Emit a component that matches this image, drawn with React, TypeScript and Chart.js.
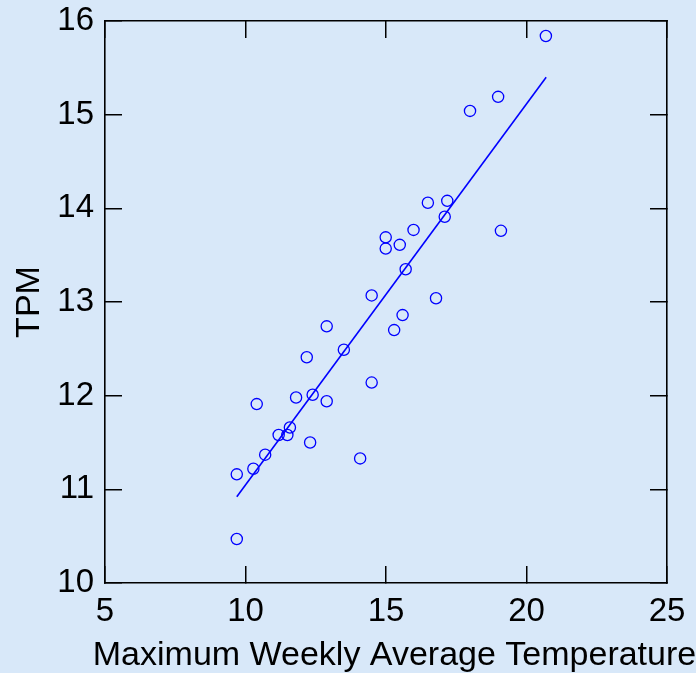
import React, { useEffect, useRef } from "react";
import { Chart, registerables } from "chart.js";

Chart.register(...registerables);

const tempValues = [
  9.69, 9.69, 10.28, 10.40, 10.70, 11.18, 11.49, 11.58, 11.80, 12.39, 12.89,
  12.30, 14.08, 14.49, 14.49, 15.59, 15.29, 12.89, 13.50, 12.18, 16.49, 17.18,
  17.09, 15.98, 19.09, 14.99, 14.99, 15.49, 15.70, 16.78, 20.69, 18.99, 17.99,
];
const tpmValues = [
  10.47, 11.16, 11.22, 11.91, 11.37, 11.58, 11.58, 11.66, 11.98, 12.01, 11.94,
  11.50, 11.33, 12.14, 13.07, 12.86, 12.70, 12.74, 12.49, 12.41, 14.06, 14.08,
  13.91, 13.77, 13.76, 13.69, 13.57, 13.61, 13.35, 13.04, 15.84, 15.19, 15.04,
];
const fitX = [9.69, 20.70];
const fitY = [10.92, 15.40];

const xTicks = [5, 10, 15, 20, 25];
const yTicks = [10, 11, 12, 13, 14, 15, 16];

const xTitle = "Maximum Weekly Average Temperature";
const yTitle = "TPM";

const FONT = "'Liberation Sans', Arial, sans-serif";

export default function App() {
  const ref = useRef<HTMLCanvasElement>(null);

  useEffect(() => {
    if (!ref.current) return;
    const axisCommon = (pos: string) => ({
      type: "linear" as const,
      position: pos,
      grid: {
        drawOnChartArea: false,
        drawTicks: true,
        tickLength: -17,
        color: "#000",
        lineWidth: 1.5,
      },
      border: { display: true, color: "#000", width: 1.6 },
    });
    const fixPad = (s: any) => {
      s.paddingTop = 0;
      s.paddingBottom = 0;
      s.paddingLeft = 0;
      s.paddingRight = 0;
    };

    const xTitlePlugin = {
      id: "xTitlePlugin",
      afterDraw(chart: any) {
        const { ctx, chartArea } = chart;
        ctx.save();
        ctx.font = `34px ${FONT}`;
        ctx.fillStyle = "#000";
        ctx.textAlign = "center";
        ctx.textBaseline = "alphabetic";
        ctx.fillText(xTitle, (chartArea.left + chartArea.right) / 2 + 8.5, chartArea.bottom + 82);
        ctx.restore();
      },
    };

    const chart = new Chart(ref.current, {
      type: "scatter",
      data: {
        datasets: [
          {
            type: "scatter",
            data: tempValues.map((x, i) => ({ x, y: tpmValues[i] })),
            pointStyle: "circle",
            pointRadius: 5.6,
            pointBorderWidth: 1.3,
            borderColor: "#0000ff",
            backgroundColor: "rgba(0,0,0,0)",
          },
          {
            type: "line",
            data: fitX.map((x, i) => ({ x, y: fitY[i] })),
            borderColor: "#0000ff",
            borderWidth: 1.6,
            pointRadius: 0,
            fill: false,
          },
        ],
      },
      options: {
        animation: false,
        responsive: false,
        maintainAspectRatio: false,
        layout: { padding: 0 },
        plugins: { legend: { display: false }, tooltip: { enabled: false } },
        scales: {
          x: {
            ...axisCommon("bottom"),
            min: 5,
            max: 25,
            afterBuildTicks: (s: any) => {
              s.ticks = xTicks.map((v) => ({ value: v }));
            },
            afterFit: (s: any) => {
              s.height = 90;
              fixPad(s);
            },
            ticks: {
              color: "#000",
              font: { size: 33, family: FONT },
              padding: 26,
              maxRotation: 0,
              autoSkip: false,
            },
          },
          xTop: {
            ...axisCommon("top"),
            min: 5,
            max: 25,
            afterBuildTicks: (s: any) => {
              s.ticks = xTicks.map((v) => ({ value: v }));
            },
            afterFit: (s: any) => {
              s.height = 21;
              fixPad(s);
            },
            ticks: { display: false },
          },
          y: {
            ...axisCommon("left"),
            min: 10,
            max: 16,
            afterBuildTicks: (s: any) => {
              s.ticks = yTicks.map((v) => ({ value: v }));
            },
            afterFit: (s: any) => {
              s.width = 105;
              fixPad(s);
            },
            ticks: {
              color: "#000",
              font: { size: 33, family: FONT },
              padding: 28,
              autoSkip: false,
            },
            title: {
              display: true,
              text: yTitle,
              color: "#000",
              font: { size: 34, family: FONT },
              padding: { top: 9, bottom: 0 },
            },
          },
          yRight: {
            ...axisCommon("right"),
            min: 10,
            max: 16,
            afterBuildTicks: (s: any) => {
              s.ticks = yTicks.map((v) => ({ value: v }));
            },
            afterFit: (s: any) => {
              s.width = 29;
              fixPad(s);
            },
            ticks: { display: false },
          },
        },
      } as any,
      plugins: [xTitlePlugin],
    });
    return () => chart.destroy();
  }, []);

  return (
    <div
      style={{
        position: "fixed",
        left: 0,
        top: 0,
        width: 696,
        height: 673,
        background: "#d8e8f9",
      }}
    >
      <canvas ref={ref} width={696} height={673} style={{ display: "block" }} />
    </div>
  );
}
